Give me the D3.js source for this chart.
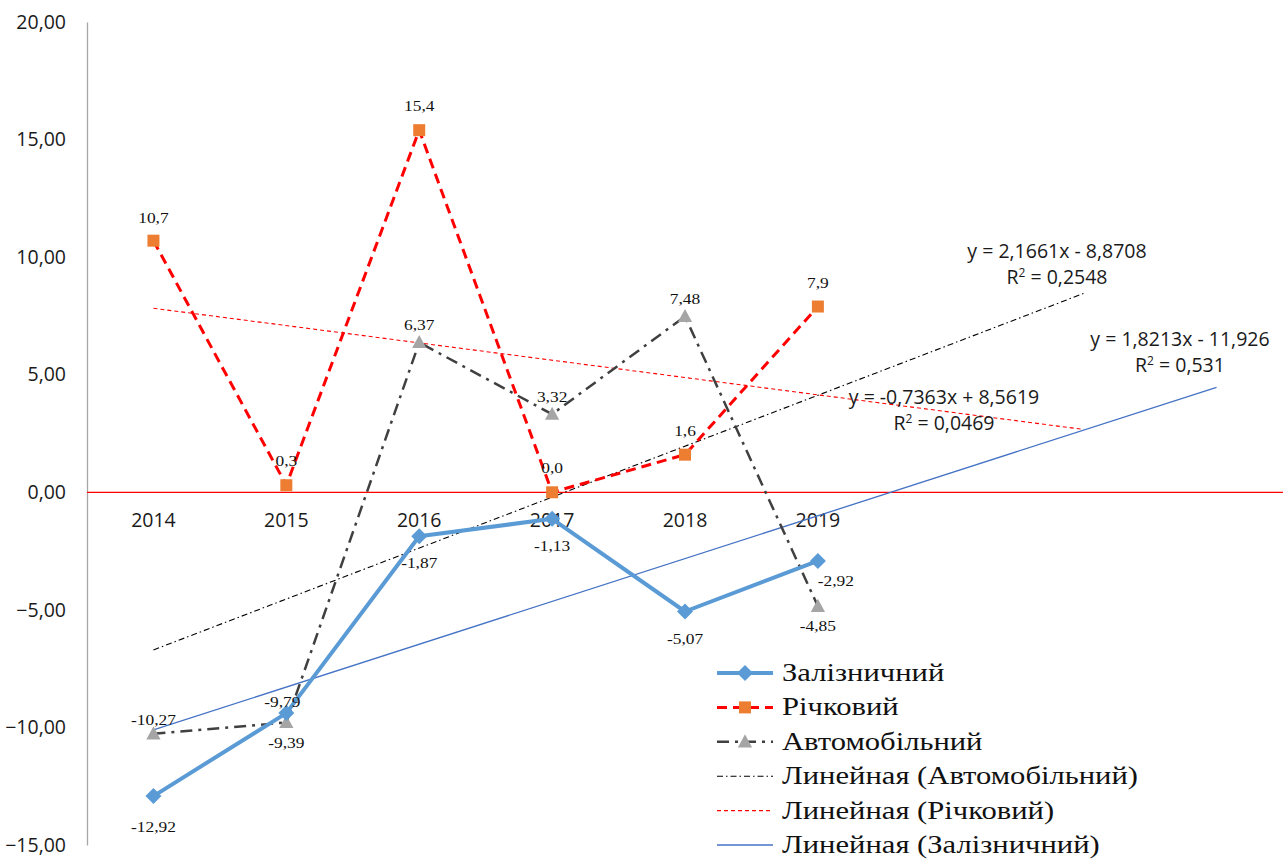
<!DOCTYPE html>
<html>
<head>
<meta charset="utf-8">
<script src="https://cdn.jsdelivr.net/npm/d3@7"></script>
<style>
  html, body { margin: 0; padding: 0; background: #fff; }
  svg { display: block; }
</style>
</head>
<body>
<svg id="chart" width="1288" height="861"></svg>
<script>
// Categories and series values
const years = ["2014", "2015", "2016", "2017", "2018", "2019"];
const rail = [-12.92, -9.39, -1.87, -1.13, -5.07, -2.92];
const river = [10.7, 0.3, 15.4, 0.0, 1.6, 7.9];
const road = [-10.27, -9.79, 6.37, 3.32, 7.48, -4.85];
const railLabels = ["-12,92", "-9,39", "-1,87", "-1,13", "-5,07", "-2,92"];
const riverLabels = ["10,7", "0,3", "15,4", "0,0", "1,6", "7,9"];
const roadLabels = ["-10,27", "-9,79", "6,37", "3,32", "7,48", "-4,85"];
const yTicks = [-15, -10, -5, 0, 5, 10, 15, 20];
const seriesNames = ["Залізничний", "Річковий", "Автомобільний"];
const trendNames = ["Линейная (Автомобільний)", "Линейная (Річковий)", "Линейная (Залізничний)"];
// Linear trend coefficients (slope, intercept) and forward forecast periods
const trendRoad = { slope: 2.1661, intercept: -8.8708, r2: "0,2548", eq: "y = 2,1661x - 8,8708", forward: 2 };
const trendRiver = { slope: -0.7363, intercept: 8.5619, r2: "0,0469", eq: "y = -0,7363x + 8,5619", forward: 2 };
const trendRail = { slope: 1.8213, intercept: -11.926, r2: "0,531", eq: "y = 1,8213x - 11,926", forward: 3 };

const svg = d3.select("#chart");
const x = d3.scaleLinear().domain([0.5, 9.5]).range([87, 1283]);
const y = d3.scaleLinear().domain([-15, 20]).range([845, 22]);

const sansFont = "'Open Sans', 'Liberation Sans', sans-serif";
const serifFont = "'Liberation Serif', 'Times New Roman', serif";
const textColor = "#1a1a1a";
const serifStretch = 1.2;   // serif labels are drawn slightly widened

const fmt = v => d3.format(".2f")(v).replace(".", ",");

// Y axis
const yAxis = d3.axisLeft(y).tickValues(yTicks).tickSize(0).tickPadding(21).tickFormat(fmt);
const gy = svg.append("g").attr("transform", `translate(${x(0.5)},0)`).call(yAxis);
gy.select(".domain").attr("stroke", "#a6a6a6").attr("stroke-width", 1.3);
gy.selectAll("text").attr("font-family", sansFont).attr("font-size", 19.5).attr("fill", textColor);

// Zero line
svg.append("line").attr("x1", x(0.5)).attr("x2", x(9.5)).attr("y1", y(0)).attr("y2", y(0))
  .attr("stroke", "#ff0000").attr("stroke-width", 1.3);

// Category labels
svg.append("g").selectAll("text").data(years).join("text")
  .attr("x", (d, i) => x(i + 1)).attr("y", y(0) + 35)
  .attr("text-anchor", "middle")
  .attr("font-family", sansFont).attr("font-size", 19.5).attr("fill", textColor).text(d => d);

// Trendlines
function trendLine(t, style) {
  const x0 = 1, x1 = 6 + t.forward;
  svg.append("line")
    .attr("x1", x(x0)).attr("y1", y(t.slope * x0 + t.intercept))
    .attr("x2", x(x1)).attr("y2", y(t.slope * x1 + t.intercept))
    .attr("stroke", style.color).attr("stroke-width", style.width)
    .attr("stroke-dasharray", style.dash || null);
}
trendLine(trendRoad, { color: "#000", width: 1.1, dash: "6,3,1.5,3" });
trendLine(trendRiver, { color: "#ff0000", width: 1.1, dash: "4,3" });
trendLine(trendRail, { color: "#4472c4", width: 1.3 });

// Series lines
const line = d3.line().x((d, i) => x(i + 1)).y(d => y(d));
svg.append("path").datum(road).attr("d", line).attr("fill", "none")
  .attr("stroke", "#404040").attr("stroke-width", 2.5).attr("stroke-dasharray", "12,6,3,6");
svg.append("path").datum(river).attr("d", line).attr("fill", "none")
  .attr("stroke", "#ff0000").attr("stroke-width", 3).attr("stroke-dasharray", "10,6");
svg.append("path").datum(rail).attr("d", line).attr("fill", "none")
  .attr("stroke", "#5b9bd5").attr("stroke-width", 4).attr("stroke-linejoin", "round");

// Marker shapes
const diamond = r => `M0,${-r}L${r},0L0,${r}L${-r},0Z`;
const square = r => `M${-r},${-r}H${r}V${r}H${-r}Z`;
const triangle = r => `M0,${-r}L${r * 0.95},${r * 0.75}L${-r * 0.95},${r * 0.75}Z`;

svg.append("g").selectAll("path").data(road).join("path")
  .attr("d", triangle(7.5)).attr("fill", "#a5a5a5")
  .attr("transform", (d, i) => `translate(${x(i + 1)},${y(d)})`);
svg.append("g").selectAll("path").data(river).join("path")
  .attr("d", square(6)).attr("fill", "#ed7d31")
  .attr("transform", (d, i) => `translate(${x(i + 1)},${y(d)})`);
svg.append("g").selectAll("path").data(rail).join("path")
  .attr("d", diamond(8)).attr("fill", "#5b9bd5")
  .attr("transform", (d, i) => `translate(${x(i + 1)},${y(d)})`);

// Data labels
function labels(vals, texts, offsets) {
  svg.append("g").selectAll("text").data(vals).join("text")
    .attr("transform", (d, i) =>
      `translate(${x(i + 1) + offsets[i][0]},${y(d) + offsets[i][1]}) scale(${serifStretch},1)`)
    .attr("text-anchor", "middle")
    .attr("font-family", serifFont).attr("font-size", 14.5).attr("fill", "#111")
    .text((d, i) => texts[i]);
}
labels(river, riverLabels, [[0, -18], [0, -19], [0, -19], [0, -19], [0, -19], [0, -19]]);
labels(road, roadLabels, [[0, -9], [-4, -15], [0, -12], [0, -12], [0, -12], [0, 25]]);
labels(rail, railLabels, [[0, 36], [0, 35], [0, 32], [0, 32], [0, 32], [18, 25]]);

// Trendline equations
function equation(t, cx, cy) {
  const g = svg.append("g").attr("font-family", sansFont).attr("font-size", 19.5)
    .attr("fill", textColor).attr("text-anchor", "middle");
  g.append("text").attr("x", cx).attr("y", cy).text(t.eq);
  const r = g.append("text").attr("x", cx).attr("y", cy + 26);
  r.append("tspan").text("R");
  r.append("tspan").attr("font-size", 12).attr("dy", -7).text("2");
  r.append("tspan").attr("dy", 7).text(" = " + t.r2);
}
equation(trendRoad, 1057, 258);
equation(trendRail, 1180, 346);
equation(trendRiver, 944, 404);

// Legend
const legend = svg.append("g").attr("font-family", serifFont).attr("font-size", 25.5).attr("fill", "#111");
const lx0 = 717, lx1 = 773, ly0 = 673, ldy = 34.4;
const legendItems = [
  { name: seriesNames[0], color: "#5b9bd5", width: 4, dash: null, marker: diamond(8), mfill: "#5b9bd5" },
  { name: seriesNames[1], color: "#ff0000", width: 3, dash: "10,6", marker: square(6), mfill: "#ed7d31" },
  { name: seriesNames[2], color: "#404040", width: 2.5, dash: "12,6,3,6", marker: triangle(7.5), mfill: "#a5a5a5" },
  { name: trendNames[0], color: "#000", width: 1.1, dash: "6,3,1.5,3" },
  { name: trendNames[1], color: "#ff0000", width: 1.1, dash: "4,3" },
  { name: trendNames[2], color: "#4472c4", width: 1.3, dash: null }
];
legendItems.forEach((it, i) => {
  const yy = ly0 + i * ldy;
  legend.append("line").attr("x1", lx0).attr("x2", lx1).attr("y1", yy).attr("y2", yy)
    .attr("stroke", it.color).attr("stroke-width", it.width).attr("stroke-dasharray", it.dash);
  if (it.marker) {
    legend.append("path").attr("d", it.marker).attr("fill", it.mfill)
      .attr("transform", `translate(${(lx0 + lx1) / 2},${yy})`);
  }
  legend.append("text").attr("transform", `translate(782,${yy + 8}) scale(${serifStretch},1)`).text(it.name);
});
</script>
</body>
</html>
